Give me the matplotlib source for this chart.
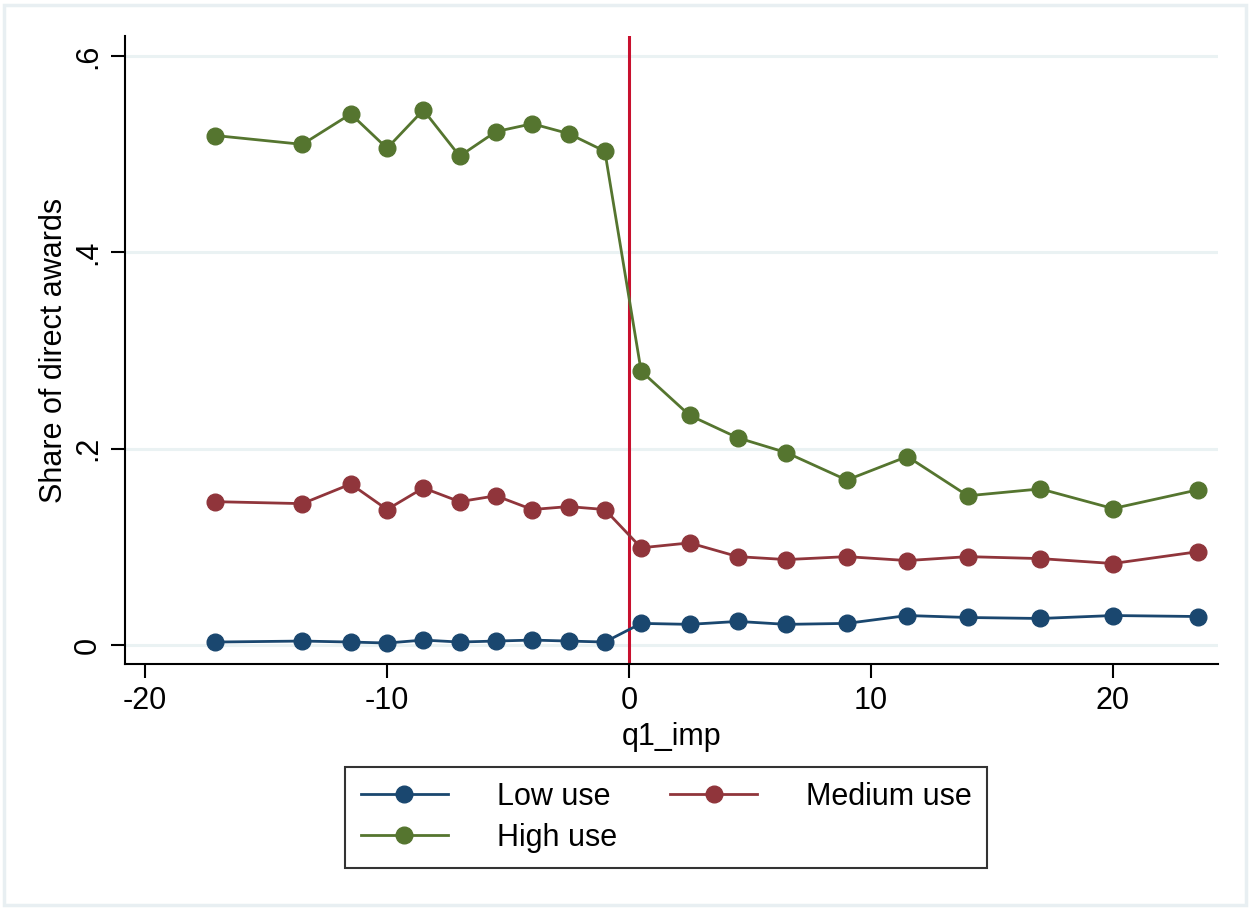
import matplotlib.pyplot as plt
from matplotlib.patches import Rectangle

plt.rcParams['font.family'] = ['Liberation Sans', 'DejaVu Sans']
plt.rcParams['axes.unicode_minus'] = False

# bins of q1_imp
q1_imp = [-17.1, -13.5, -11.5, -10.0, -8.5, -7.0, -5.5, -4.0, -2.5, -1.0,
          0.5, 2.5, 4.5, 6.5, 9.0, 11.5, 14.0, 17.0, 20.0, 23.5]

low_use = [0.003, 0.004, 0.003, 0.002, 0.005, 0.003, 0.004, 0.005, 0.004, 0.003,
           0.022, 0.021, 0.024, 0.021, 0.022, 0.030, 0.028, 0.027, 0.030, 0.029]
medium_use = [0.146, 0.144, 0.164, 0.138, 0.160, 0.146, 0.152, 0.138, 0.141, 0.138,
              0.099, 0.104, 0.090, 0.087, 0.090, 0.086, 0.090, 0.088, 0.083, 0.095]
high_use = [0.519, 0.510, 0.541, 0.506, 0.545, 0.498, 0.523, 0.531, 0.521, 0.503,
            0.279, 0.234, 0.211, 0.196, 0.168, 0.192, 0.152, 0.159, 0.139, 0.158]

series = [('Low use', low_use, '#1a476f'),
          ('Medium use', medium_use, '#90353b'),
          ('High use', high_use, '#55752f')]

fig = plt.figure(figsize=(12.5, 9.09), dpi=100)
ax = fig.add_axes([0.1, 0.2695, 0.8744, 0.6909])

ax.axvline(0, color='#c8102e', linewidth=2.2, zorder=1)
lines = {}
for name, vals, col in series:
    lines[name], = ax.plot(q1_imp, vals, color=col, linewidth=2, marker='o',
                           markersize=12, label=name, zorder=3)

ax.set_xlim(-20.83, 24.34)
ax.set_ylim(-0.0194, 0.6204)
ax.set_xticks([-20, -10, 0, 10, 20])
ax.set_yticks([0, 0.2, 0.4, 0.6])
ax.set_yticklabels(['0', '.2', '.4', '.6'], rotation=90, va='center')
ax.grid(axis='y', color='#eaf2f3', linewidth=2.2, zorder=0)
ax.set_axisbelow(True)
for s in ['top', 'right']:
    ax.spines[s].set_visible(False)
for s in ['left', 'bottom']:
    ax.spines[s].set_linewidth(1.5)
ax.tick_params(labelsize=22, length=10, width=1.5, pad=6)
ax.set_xlabel('q1_imp', fontsize=22, labelpad=4)
ax.set_ylabel('Share of direct awards', fontsize=22, labelpad=3)

# row-major order: Low, Medium / High
order = ['Low use', 'High use', 'Medium use']
leg = fig.legend([lines[n] for n in order], order, loc='center',
                 bbox_to_anchor=(0.533, 0.101), ncol=2,
                 fontsize=22, handlelength=2.85, handletextpad=1.6,
                 columnspacing=1.75, frameon=True, fancybox=False,
                 borderpad=0.5, labelspacing=0.35)
leg.get_frame().set_edgecolor('black')
leg.get_frame().set_linewidth(1.5)

fig.patches.append(Rectangle((0.003, 0.004), 0.994, 0.99, transform=fig.transFigure,
                             fill=False, edgecolor='#e8eff2', linewidth=2.5))

plt.savefig('out.png', dpi=100)
